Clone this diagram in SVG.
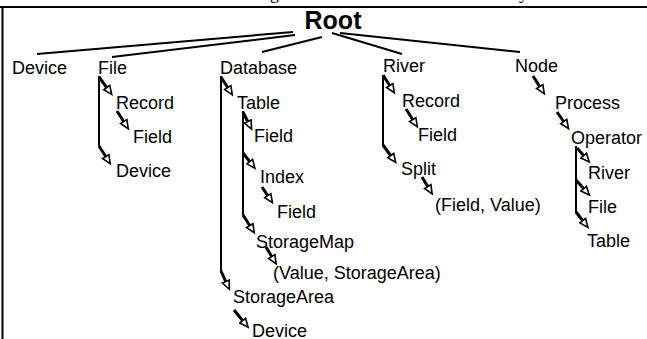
<svg xmlns="http://www.w3.org/2000/svg" width="647" height="339" viewBox="0 0 647 339">
<style>
text{font-family:"Liberation Sans",Arial,sans-serif;font-size:18px;fill:#000}
.root{font-size:25px;font-weight:bold}
.cap{font-family:"Liberation Serif","Times New Roman",serif;font-size:18px}
.frame{stroke:#000;stroke-width:2;fill:none}
.rl{stroke:#000;stroke-width:2;fill:none}
.vl{stroke:#000;stroke-width:2;fill:none}
.ar{stroke:#000;stroke-width:3;fill:none;marker-end:url(#ah)}
</style>
<defs>
<marker id="ah" markerUnits="userSpaceOnUse" markerWidth="12" markerHeight="10" refX="1.5" refY="5" orient="auto">
<path d="M1,1.3 L9.5,5 L1,8.7 z" fill="#fff" stroke="#000" stroke-width="1.6"/>
</marker>
</defs>
<rect width="647" height="339" fill="#fff"/>
<text class="cap" x="270" y="-1">g</text>
<text class="cap" x="519" y="-1">y</text>
<path class="frame" d="M0,7 H647 M2.5,7 V339"/>
<g id="connectors">
<path class="rl" d="M293,32 L37,54 M295,35 L112,57 M322,37 L262,52 M332,33 L402,54 M340,33 L520,52"/>
<path class="vl" d="M99,76 V146 M221,76 V271 M243,111 V215 M383,75 V146 M576,146 V213"/>
<path class="ar" d="M99,77 L107,88"/>
<path class="ar" d="M117,111 L124,122"/>
<path class="ar" d="M99,146 L106,157"/>
<path class="ar" d="M221,77 L228,88"/>
<path class="ar" d="M243,112 L248,122"/>
<path class="ar" d="M243,153 L250,162"/>
<path class="ar" d="M262,187 L268,196"/>
<path class="ar" d="M243,215 L250,226"/>
<path class="ar" d="M266,247 L272,257"/>
<path class="ar" d="M221,271 L226,282"/>
<path class="ar" d="M234,310 L243,321"/>
<path class="ar" d="M383,75 L390,86"/>
<path class="ar" d="M406,109 L413,120"/>
<path class="ar" d="M383,145 L391,156"/>
<path class="ar" d="M422,177 L428,187"/>
<path class="ar" d="M533,76 L540,87"/>
<path class="ar" d="M557,112 L564,122"/>
<path class="ar" d="M577,148 L584,156"/>
<path class="ar" d="M576,180 L584,189"/>
<path class="ar" d="M576,212 L583,221"/>
</g>
<g id="root"><text class="root" x="333" y="29" text-anchor="middle">Root</text></g>
<g id="device"><text x="12" y="74">Device</text></g>
<g id="file"><text x="98" y="74">File</text></g>
<g id="database"><text x="220" y="74">Database</text></g>
<g id="river"><text x="383" y="72">River</text></g>
<g id="node"><text x="515" y="72">Node</text></g>
<g id="file-record"><text x="116" y="109">Record</text></g>
<g id="file-record-field"><text x="133" y="143">Field</text></g>
<g id="file-device"><text x="116" y="177">Device</text></g>
<g id="db-table"><text x="237" y="109">Table</text></g>
<g id="db-table-field"><text x="254" y="142">Field</text></g>
<g id="db-table-index"><text x="260" y="183">Index</text></g>
<g id="db-table-index-field"><text x="277" y="218">Field</text></g>
<g id="db-table-storagemap"><text x="256" y="248">StorageMap</text></g>
<g id="db-table-storagemap-pair"><text x="273" y="279">(Value, StorageArea)</text></g>
<g id="db-storagearea"><text x="233" y="303">StorageArea</text></g>
<g id="db-storagearea-device"><text x="252" y="337">Device</text></g>
<g id="river-record"><text x="402" y="107">Record</text></g>
<g id="river-record-field"><text x="418" y="141">Field</text></g>
<g id="river-split"><text x="401" y="175">Split</text></g>
<g id="river-split-pair"><text x="435" y="211">(Field, Value)</text></g>
<g id="node-process"><text x="555" y="109">Process</text></g>
<g id="node-process-operator"><text x="571" y="144">Operator</text></g>
<g id="operator-river"><text x="588" y="179">River</text></g>
<g id="operator-file"><text x="588" y="213">File</text></g>
<g id="operator-table"><text x="587" y="247">Table</text></g>
</svg>
